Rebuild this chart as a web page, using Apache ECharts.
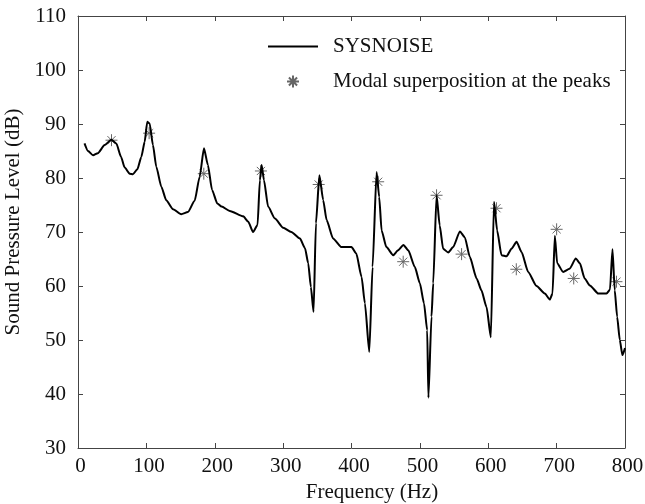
<!DOCTYPE html>
<html>
<head>
<meta charset="utf-8">
<script src="https://cdn.jsdelivr.net/npm/echarts@6/dist/echarts.min.js"></script>
<style>html,body{margin:0;padding:0;background:#fff;}#chart{width:645px;height:504px;}</style>
</head>
<body>
<div id="chart"></div>
<script>
// SYSNOISE curve: frequency (Hz) and sound pressure level (dB)
var sysFreq = [9.5,14.6,22,29,39,48.7,56,63,68,75.5,80.4,86.7,92.6,97.5,101.3,104.8,109.6,114.5,121.8,129,139,151,160.8,170.6,177.9,184.2,190,196,203.7,210,222,241.7,249,256,262.6,266,268.5,272,278,288,300,312,324.6,332,336.7,340.6,344.5,348,353,358.6,363.6,373,385.5,395,400,407,414.7,419.6,426,430.8,436.7,440.5,444,451,461,468,476,483,492.7,500,506,510.7,512.5,517,519.5,524.4,529,534,541.4,548.7,558.5,565.8,573,583,590,597.5,603.8,608.4,613,619.4,626.8,634,641.4,648.7,658.4,670.6,682.7,690,694,697.4,700.8,709.5,719,728,734,741,748.5,761,773,778,781.7,785,788.5,792.4,796.2,800];
var sysSpl = [86.4,85.0,84.2,84.6,86.1,87.1,86.4,83.9,82.0,80.8,80.7,81.6,83.9,86.7,90.4,90.1,86.1,82.1,78.4,75.9,74.2,73.3,73.7,75.8,80.2,85.5,82.4,77.8,75.3,74.7,73.9,72.9,71.9,70.0,71.3,79.6,82.4,79.6,74.7,72.5,70.8,70.0,68.8,67.0,64.2,59.8,55.2,71.6,80.5,75.9,72.2,68.8,67.2,67.2,67.2,66.0,61.7,56.8,47.8,63.5,81.1,76.5,70.3,67.2,65.7,66.6,67.6,66.6,63.5,60.5,56.8,51.8,39.3,54.3,60.5,76.8,71.2,66.9,66.2,67.2,70.1,69.0,65.4,61.4,59.2,56.1,50.5,75.6,70.3,65.7,65.5,66.9,68.2,66.3,62.6,60.0,58.6,57.5,58.6,69.3,64.2,62.6,63.2,65.1,64.2,61.4,60.1,58.6,58.6,59.3,66.8,59.2,54.3,50.0,47.2,48.5];
// Modal superposition at the peaks
var modalFreq = [49,104,184,267.5,352,439,475.6,524.4,561,612,641,700,725,787.5];
var modalSpl = [87.0,88.3,80.8,81.3,78.8,79.3,64.5,76.8,65.9,74.4,63.1,70.5,61.4,60.8];
var xTicks = {min:0, max:800, interval:100};
var yTicks = {min:30, max:110, interval:10};

var sysData = sysFreq.map(function(f,i){return [f, sysSpl[i]];});
var modalData = modalFreq.map(function(f,i){return [f, modalSpl[i]];});

var FONT = 'Liberation Serif';
var axisCol = '#444';
var star = 'path://M0,5L10,5M5,0L5,10M1.6,1.6L8.4,8.4M8.4,1.6L1.6,8.4';

function xAx(pos, labels){
  return {
    type:'value', position:pos, min:xTicks.min, max:xTicks.max, interval:xTicks.interval,
    splitLine:{show:false},
    axisLine:{show:true, onZero:false, lineStyle:{color:axisCol, width:1}},
    axisTick:{show:true, inside:true, length:5, lineStyle:{color:axisCol}},
    axisLabel:{show:labels, margin:8, color:'#111', fontFamily:FONT, fontSize:21, padding:[0,0,0,5]},
    name: labels ? 'Frequency (Hz)' : '',
    nameLocation:'middle', nameGap:30,
    nameTextStyle:{color:'#111', fontFamily:FONT, fontSize:21, padding:[0,0,0,41]}
  };
}
function yAx(pos, labels){
  return {
    type:'value', position:pos, min:yTicks.min, max:yTicks.max, interval:yTicks.interval,
    splitLine:{show:false},
    axisLine:{show:true, onZero:false, lineStyle:{color:axisCol, width:1}},
    axisTick:{show:true, inside:true, length:5, lineStyle:{color:axisCol}},
    axisLabel:{show:labels, margin:12, color:'#111', fontFamily:FONT, fontSize:21},
    name: labels ? 'Sound Pressure Level (dB)' : '',
    nameLocation:'middle', nameGap:45,
    nameTextStyle:{color:'#111', fontFamily:FONT, fontSize:21, padding:[0,0,0,20]}
  };
}

var chart = echarts.init(document.getElementById('chart'), null, {renderer:'canvas'});
chart.setOption({
  animation:false,
  backgroundColor:'#fff',
  grid:{left:78, right:20, top:16, bottom:56, containLabel:false, outerBoundsMode:'none'},
  legend:{
    orient:'vertical', left:263, top:31, itemWidth:50, itemHeight:12, itemGap:14,
    textStyle:{fontFamily:FONT, fontSize:21, color:'#111', lineHeight:21, padding:[0,0,0,10]},
    data:[
      {name:'SYSNOISE', icon:'path://M0,0L50,0L50,2L0,2Z', itemStyle:{color:'#000'}},
      'Modal superposition at the peaks'
    ]
  },
  xAxis:[xAx('bottom', true), xAx('top', false)],
  yAxis:[yAx('left', true), yAx('right', false)],
  series:[
    {name:'SYSNOISE', type:'line', data:sysData, symbol:'none', xAxisIndex:0, yAxisIndex:0,
     lineStyle:{color:'#000', width:2}, itemStyle:{color:'#000'}, smooth:0.2, smoothMonotone:'x'},
    {name:'Modal superposition at the peaks', type:'scatter', data:modalData, symbol:star, symbolSize:12,
     xAxisIndex:0, yAxisIndex:0,
     itemStyle:{color:'rgba(0,0,0,0)', borderColor:'#666', borderWidth:1, opacity:1}}
  ]
});
</script>
</body>
</html>
